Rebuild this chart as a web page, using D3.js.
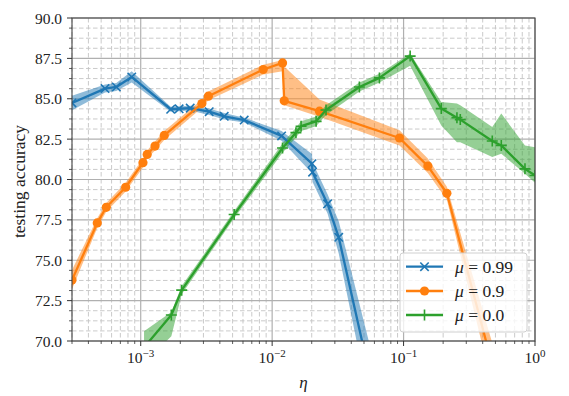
<!DOCTYPE html>
<html>
<head>
<meta charset="utf-8">
<script src="https://cdn.jsdelivr.net/npm/d3@7/dist/d3.min.js"></script>
<style>
  html, body { margin: 0; padding: 0; background: #fff; }
  svg { display: block; }
  text { font-family: "Liberation Serif", "DejaVu Serif", serif; fill: #222; }
</style>
</head>
<body>
<svg id="chart" width="569" height="396"></svg>
<script>
// ---- data ----
const seriesNames = ["0.99", "0.9", "0.0"];

const blueX  = [3e-4, 5.35e-4, 6.52e-4, 8.54e-4, 1.69e-3, 1.96e-3, 2.38e-3, 3.32e-3, 4.32e-3, 6.13e-3, 0.0118, 0.0201, 0.0203, 0.0264, 0.0321, 0.06];
const blueY  = [84.74, 85.63, 85.73, 86.35, 84.35, 84.38, 84.42, 84.2, 83.91, 83.68, 82.7, 80.98, 80.45, 78.49, 76.42, 66.6];
const blueLo = [84.29, 85.38, 85.48, 86.0, 84.2, 84.23, 84.27, 84.0, 83.71, 83.53, 82.4, 80.38, 79.85, 77.89, 75.42, 64.6];
const blueHi = [85.19, 85.88, 85.98, 86.7, 84.5, 84.53, 84.57, 84.4, 84.11, 83.83, 83.0, 81.58, 81.05, 79.09, 77.42, 68.6];

const orangeX  = [3e-4, 4.67e-4, 5.47e-4, 7.68e-4, 1.04e-3, 1.12e-3, 1.285e-3, 1.51e-3, 2.92e-3, 3.27e-3, 8.55e-3, 0.012, 0.01236, 0.0229, 0.0931, 0.153, 0.2135, 0.5];
const orangeY  = [73.77, 77.31, 78.28, 79.52, 81.04, 81.55, 82.07, 82.73, 84.70, 85.16, 86.81, 87.22, 84.87, 84.23, 82.57, 80.83, 79.15, 67.8];
const orangeLo = [73.2, 77.0, 78.0, 79.25, 80.75, 81.3, 81.8, 82.45, 84.45, 84.9, 86.5, 86.7, 84.6, 83.88, 82.1, 80.4, 78.75, 66.4];
const orangeHi = [74.4, 77.6, 78.55, 79.8, 81.3, 81.8, 82.35, 83.0, 84.95, 85.45, 87.1, 87.4, 87.0, 84.95, 83.05, 81.3, 79.55, 69.2];

const greenX  = [1.06e-3, 1.71e-3, 2.05e-3, 5.14e-3, 0.012, 0.01517, 0.0166, 0.0216, 0.0257, 0.0461, 0.0655, 0.1122, 0.1936, 0.2547, 0.27, 0.473, 0.554, 0.839, 1.0];
const greenY  = [69.6, 71.61, 73.15, 77.83, 81.95, 82.9, 83.3, 83.6, 84.3, 85.73, 86.29, 87.64, 84.39, 83.83, 83.71, 82.38, 82.11, 80.66, 80.25];
const greenLo = [68.6, 70.3, 72.9, 77.6, 81.65, 82.6, 83.0, 83.3, 84.0, 85.45, 86.0, 87.05, 83.35, 82.3, 82.3, 81.39, 81.6, 80.35, 79.8];
const greenHi = [70.6, 71.8, 73.4, 78.05, 82.25, 83.2, 83.6, 83.9, 84.6, 86.0, 86.55, 87.8, 84.8, 84.7, 84.6, 83.25, 84.08, 82.1, 82.0];

const xMajorTicks = [1e-3, 1e-2, 1e-1, 1e0];
const xTickExp = ["−3", "−2", "−1", "0"];
const yMajorTicks = [70, 72.5, 75, 77.5, 80, 82.5, 85, 87.5, 90];
const yTickLabels = ["70.0", "72.5", "75.0", "77.5", "80.0", "82.5", "85.0", "87.5", "90.0"];

// ---- layout ----
const M = { left: 72, top: 18, right: 535, bottom: 341 };
const svg = d3.select("#chart");

const x = d3.scaleLog().domain([3e-4, 1]).range([M.left, M.right]);
const y = d3.scaleLinear().domain([70, 90]).range([M.bottom, M.top]);

const colors = ["#1f77b4", "#ff7f0e", "#2ca02c"];

svg.append("defs").append("clipPath").attr("id", "clip")
  .append("rect").attr("x", M.left).attr("y", M.top)
  .attr("width", M.right - M.left).attr("height", M.bottom - M.top);

// minor ticks
const xMinor = [];
for (let e = -4; e <= 0; e++) {
  for (let k = 2; k <= 9; k++) {
    const v = k * Math.pow(10, e);
    if (v >= 3e-4 * 0.999 && v <= 1) xMinor.push(v);
  }
}
const yMinor = d3.range(70, 90.0001, 0.625).filter(v => Math.abs((v / 2.5) - Math.round(v / 2.5)) > 1e-6);

// grid
const grid = svg.append("g");
grid.selectAll(".xmin").data(xMinor).join("line")
  .attr("x1", d => x(d)).attr("x2", d => x(d)).attr("y1", M.top).attr("y2", M.bottom)
  .attr("stroke", "#c4c4c4").attr("stroke-width", 0.9).attr("stroke-dasharray", "4.5,2.5");
grid.selectAll(".ymin").data(yMinor).join("line")
  .attr("x1", M.left).attr("x2", M.right).attr("y1", d => y(d)).attr("y2", d => y(d))
  .attr("stroke", "#c4c4c4").attr("stroke-width", 0.9).attr("stroke-dasharray", "4.5,2.5");
grid.selectAll(".xmaj").data(xMajorTicks).join("line")
  .attr("x1", d => x(d)).attr("x2", d => x(d)).attr("y1", M.top).attr("y2", M.bottom)
  .attr("stroke", "#b0b0b0").attr("stroke-width", 1.2);
grid.selectAll(".ymaj").data(yMajorTicks).join("line")
  .attr("x1", M.left).attr("x2", M.right).attr("y1", d => y(d)).attr("y2", d => y(d))
  .attr("stroke", "#b0b0b0").attr("stroke-width", 1.2);

const series = [
  { X: blueX, Y: blueY, Lo: blueLo, Hi: blueHi, c: colors[0], m: "x" },
  { X: orangeX, Y: orangeY, Lo: orangeLo, Hi: orangeHi, c: colors[1], m: "o" },
  { X: greenX, Y: greenY, Lo: greenLo, Hi: greenHi, c: colors[2], m: "+" }
];

const plot = svg.append("g").attr("clip-path", "url(#clip)");

// bands
series.forEach(s => {
  const pts = s.X.map((v, i) => ({ x: v, lo: s.Lo[i], hi: s.Hi[i] }));
  plot.append("path")
    .attr("d", d3.area().x(d => x(d.x)).y0(d => y(d.lo)).y1(d => y(d.hi))(pts))
    .attr("fill", s.c).attr("fill-opacity", 0.5).attr("stroke", "none");
});

function drawMarker(g, type, cx, cy, c) {
  if (type === "o") {
    g.append("circle").attr("cx", cx).attr("cy", cy).attr("r", 4.6).attr("fill", c);
  } else if (type === "x") {
    const r = 4.2;
    g.append("path").attr("d", `M${cx - r},${cy - r}L${cx + r},${cy + r}M${cx - r},${cy + r}L${cx + r},${cy - r}`)
      .attr("stroke", c).attr("stroke-width", 1.6).attr("fill", "none");
  } else {
    const r = 5.5;
    g.append("path").attr("d", `M${cx - r},${cy}L${cx + r},${cy}M${cx},${cy - r}L${cx},${cy + r}`)
      .attr("stroke", c).attr("stroke-width", 1.6).attr("fill", "none");
  }
}

// lines + markers
series.forEach(s => {
  const pts = s.X.map((v, i) => ({ x: v, y: s.Y[i] }));
  plot.append("path")
    .attr("d", d3.line().x(d => x(d.x)).y(d => y(d.y))(pts))
    .attr("fill", "none").attr("stroke", s.c).attr("stroke-width", 2.3).attr("stroke-linejoin", "round");
  const mg = plot.append("g");
  pts.forEach(p => drawMarker(mg, s.m, x(p.x), y(p.y), s.c));
});

// spines
svg.append("rect").attr("x", M.left).attr("y", M.top)
  .attr("width", M.right - M.left).attr("height", M.bottom - M.top)
  .attr("fill", "none").attr("stroke", "#444").attr("stroke-width", 1.1);

// ticks
const tk = svg.append("g").attr("stroke", "#333").attr("stroke-width", 1);
yMajorTicks.forEach(v => tk.append("line").attr("x1", M.left - 5).attr("x2", M.left).attr("y1", y(v)).attr("y2", y(v)));
yMinor.forEach(v => tk.append("line").attr("x1", M.left - 3).attr("x2", M.left).attr("y1", y(v)).attr("y2", y(v)).attr("stroke-width", 0.8));
xMajorTicks.forEach(v => tk.append("line").attr("x1", x(v)).attr("x2", x(v)).attr("y1", M.bottom).attr("y2", M.bottom + 5));
xMinor.forEach(v => tk.append("line").attr("x1", x(v)).attr("x2", x(v)).attr("y1", M.bottom).attr("y2", M.bottom + 3).attr("stroke-width", 0.8));

// tick labels
yMajorTicks.forEach((v, i) => {
  svg.append("text").attr("x", M.left - 10).attr("y", y(v)).attr("dy", "0.36em")
    .attr("text-anchor", "end").attr("font-size", 15.5).text(yTickLabels[i]);
});
xMajorTicks.forEach((v, i) => {
  const t = svg.append("text").attr("x", x(v)).attr("y", M.bottom + 22)
    .attr("text-anchor", "middle").attr("font-size", 15.5);
  t.append("tspan").text("10");
  t.append("tspan").attr("font-size", 11).attr("dy", -6).text(xTickExp[i]);
});

// axis labels
svg.append("text").attr("x", (M.left + M.right) / 2).attr("y", M.bottom + 47)
  .attr("text-anchor", "middle").attr("font-size", 17).attr("font-style", "italic").text("η");
svg.append("text").attr("transform", `translate(19,${(M.top + M.bottom) / 2 + 2}) rotate(-90)`)
  .attr("text-anchor", "middle").attr("dy", "0.35em").attr("font-size", 17.5).text("testing accuracy");

// legend
const lg = svg.append("g");
lg.append("rect").attr("x", 400).attr("y", 253).attr("width", 127).attr("height", 79)
  .attr("rx", 3).attr("fill", "#fff").attr("fill-opacity", 0.8).attr("stroke", "#d0d0d0").attr("stroke-width", 1);
const legY = [266.7, 291, 315];
series.forEach((s, i) => {
  lg.append("line").attr("x1", 406).attr("x2", 443).attr("y1", legY[i]).attr("y2", legY[i])
    .attr("stroke", s.c).attr("stroke-width", 2.3);
  drawMarker(lg, s.m, 424.5, legY[i], s.c);
  const t = lg.append("text").attr("x", 455).attr("y", legY[i]).attr("dy", "0.35em").attr("font-size", 17.5);
  t.append("tspan").attr("font-style", "italic").text("μ");
  t.append("tspan").text(" = " + seriesNames[i]);
});
</script>
</body>
</html>
